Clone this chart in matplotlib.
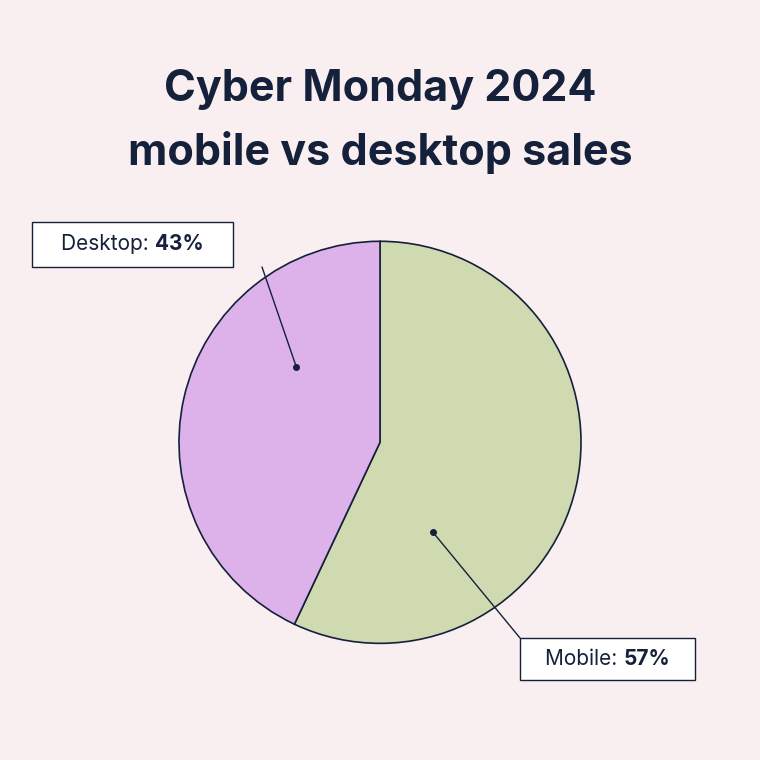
import matplotlib
matplotlib.use("Agg")
import matplotlib.pyplot as plt
import numpy as np
from matplotlib.patches import Rectangle

labels = ["Mobile", "Desktop"]
values = [57, 43]
colors = ["#cfdab1", "#ddb1ea"]
bg = "#f9eff0"
navy = "#15203b"

plt.rcParams['font.family'] = ['Inter', 'DejaVu Sans']
fig = plt.figure(figsize=(7.6, 7.6), dpi=100, facecolor=bg)
W = 760
ax = fig.add_axes([0.2355, 0.1535, 0.529, 0.529])
ax.pie(values, colors=colors, startangle=90, counterclock=False,
       wedgeprops=dict(edgecolor=navy, linewidth=1.2))
ax.set_xlim(-1, 1); ax.set_ylim(-1, 1); ax.set_aspect('equal')

fig.text(0.5, 1-90/W, "Cyber Monday 2024", ha='center', va='center', fontsize=31, fontweight='bold', color=navy)
fig.text(0.5, 1-152/W, "mobile vs desktop sales", ha='center', va='center', fontsize=31, fontweight='bold', color=navy)

def label(name, val, box, dot_ang, dot_r, anchor):
    x0, y0, x1, y1 = box
    fig.patches.append(Rectangle((x0/W, 1-y1/W), (x1-x0)/W, (y1-y0)/W, transform=fig.transFigure,
                                 facecolor='white', edgecolor=navy, linewidth=1.0, zorder=3))
    dx, dy = dot_r*np.cos(np.radians(dot_ang)), dot_r*np.sin(np.radians(dot_ang))
    ax.plot([dx], [dy], 'o', color=navy, markersize=4, zorder=5)
    ax.annotate("", xy=(dx, dy), xytext=(anchor[0]/W, 1-anchor[1]/W), textcoords='figure fraction',
                arrowprops=dict(arrowstyle='-', color=navy, lw=1.0, shrinkA=0, shrinkB=0), annotation_clip=False)
    t1 = fig.text(0, 0, f"{name}: ", fontsize=15, color=navy, va='center')
    t2 = fig.text(0, 0, f"{val}%", fontsize=15, color=navy, va='center', fontweight='bold')
    r = fig.canvas.get_renderer()
    w1 = t1.get_window_extent(r).width; w2 = t2.get_window_extent(r).width
    cx = (x0+x1)/2; cy = 1-((y0+y1)/2)/W
    start = cx - (w1+w2)/2
    t1.set_position((start/W, cy)); t2.set_position(((start+w1)/W, cy))

label(labels[1], values[1], (32, 222, 233, 267), 138, 0.56, (262, 267))
label(labels[0], values[0], (520, 638, 695, 680), -59.5, 0.52, (520, 638))

fig.savefig("out.png", facecolor=bg, dpi=100)
